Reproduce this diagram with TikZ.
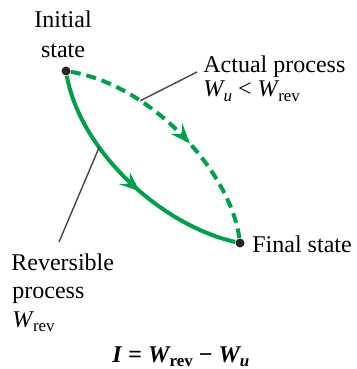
\documentclass[tikz,border=0pt]{standalone}
\usepackage{fontspec}
\setmainfont{LiberationSerif}[Extension=.ttf,UprightFont=*-Regular,ItalicFont=*-Italic,BoldFont=*-Bold,BoldItalicFont=*-BoldItalic]
\usetikzlibrary{decorations.markings,arrows.meta}
\definecolor{pgreen}{RGB}{0,160,75}
\definecolor{leadgray}{RGB}{70,70,70}
\newcommand{\subtxt}[1]{\raisebox{-0.38ex}{\fontsize{8.5}{10}\selectfont #1}}
\begin{document}
\begin{tikzpicture}[x=0.5pt,y=-0.5pt,
  txt/.style={inner sep=0pt,font=\fontsize{12}{14}\selectfont},
  statedot/.style={circle,fill=black!85,inner sep=0pt,minimum size=4.5pt},
  proc/.style={pgreen,line width=2pt},
  midarrow/.style={postaction={decorate},decoration={markings,
    mark=at position #1 with {\arrow[pgreen,solid]{Stealth[length=10pt,width=8pt,inset=4pt,line width=0.4pt]}}}},
  leader/.style={leadgray,line width=0.7pt}]
\useasboundingbox (0,0) rectangle (357,369);
% states
\node[statedot] (I) at (66,71) {};
\node[statedot] (F) at (240,243) {};
% processes
\draw[proc,dashed,dash pattern=on 5pt off 3pt,midarrow=0.565]
  (I) .. controls (150,85) and (230,170) .. (F);
\path (I) .. controls (150,85) and (230,170) .. (F) coordinate[pos=0.3] (dA);
\draw[proc,midarrow=0.56]
  (I) .. controls (80,150) and (160,225) .. (F);
\path (I) .. controls (80,150) and (160,225) .. (F) coordinate[pos=0.33] (sA);
% labels
\node[txt,anchor=base] (l1) at (63,28) {Initial};
\node[txt,anchor=base] (l2) at (63,58) {state};
\node[txt,anchor=base west] (a1) at (203,73) {Actual process};
\node[txt,anchor=base west] (a2) at (203,97) {\textit{W}\kern-0.8pt\subtxt{\textit{u}} {<} \textit{W}\kern-0.6pt\subtxt{rev}};
\node[txt,anchor=base west] (fs) at (252,252) {Final state};
\node[txt,anchor=base west] (r1) at (11,270) {Reversible};
\node[txt,anchor=base west] (r2) at (12,298) {process};
\node[txt,anchor=base west] (r3) at (12,327) {\textit{W}\kern-0.6pt\subtxt{rev}};
\node[txt,anchor=base west,font=\fontsize{12}{14}\selectfont\bfseries] (eq) at (112,362)
  {\textit{I} = \textit{W}\kern-0.6pt\subtxt{rev} − \textit{W}\kern-0.8pt\subtxt{\textit{u}}};
% leaders
\coordinate (aL) at (197,72);
\coordinate (rL) at (59,242);
\draw[leader] (aL) -- (dA);
\draw[leader] (rL) -- (sA);
\end{tikzpicture}
\end{document}
